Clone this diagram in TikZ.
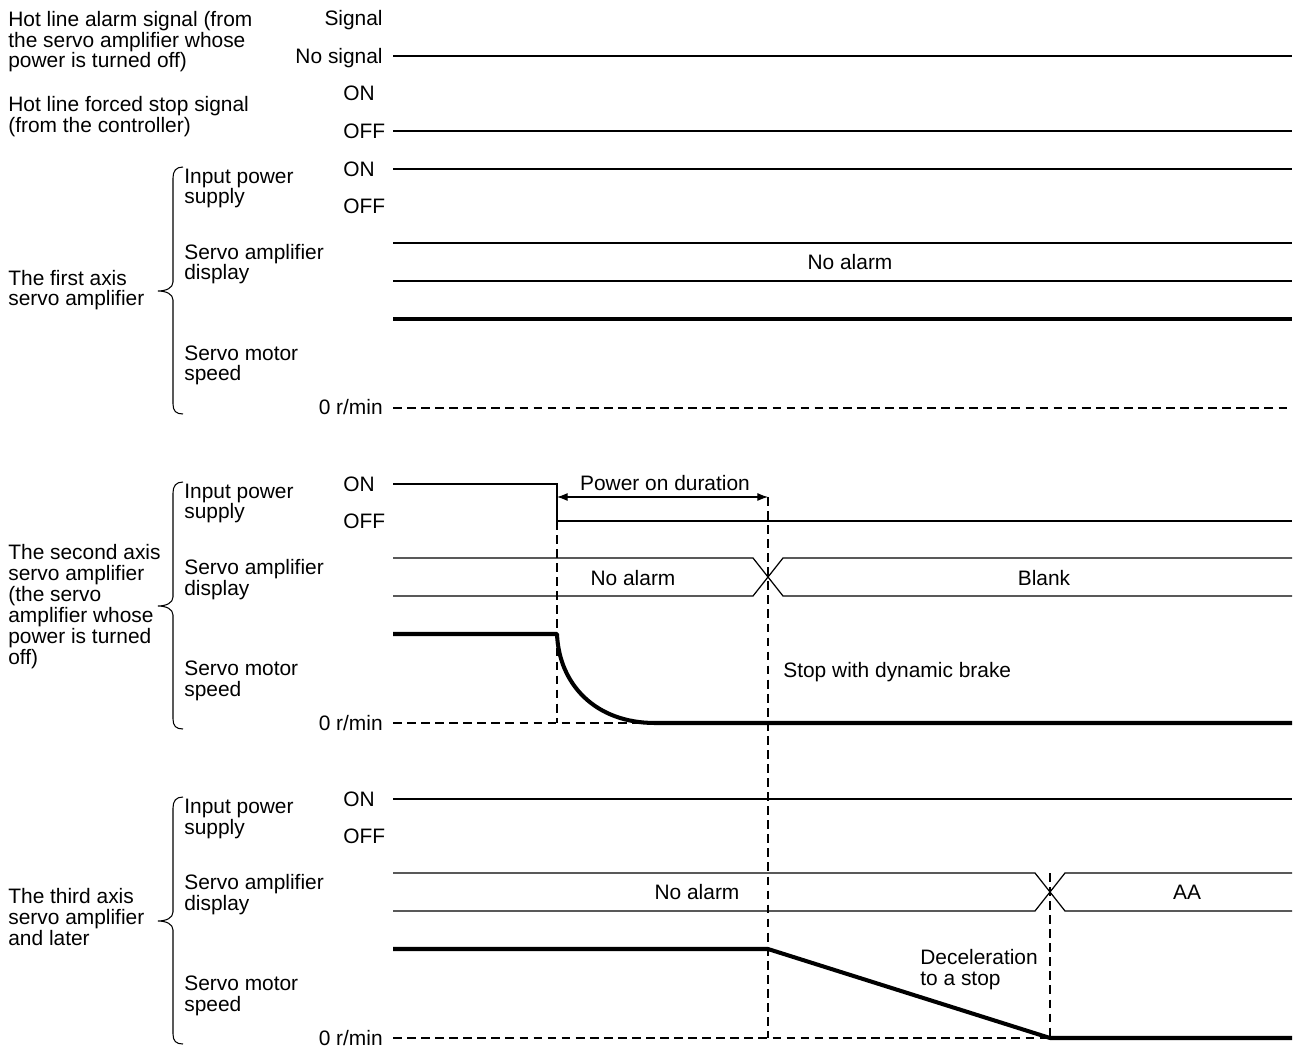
\documentclass[tikz,border=0pt]{standalone}
\usepackage{fontspec}
\setmainfont{Liberation Sans}
\usetikzlibrary{arrows.meta}
\begin{document}
\begin{tikzpicture}[x=0.02cm,y=-0.02cm,
  font=\fontsize{11.9}{11.9}\selectfont,
  lbl/.style={inner sep=0pt, anchor=base west, align=left},
  rlbl/.style={inner sep=0pt, anchor=base east},
  clbl/.style={inner sep=0pt, anchor=base},
  sig/.style={line width=0.7pt},
  spd/.style={line width=2.3pt, line join=round},
  guide/.style={dash pattern=on 5pt off 3pt, line width=0.6pt},
  brc/.style={line width=0.6pt},
  dim/.style={line width=0.6pt, {Latex[length=6pt,width=4.5pt]}-{Latex[length=6pt,width=4.5pt]}}]
\useasboundingbox (0,0) rectangle (1298,1050);
% note: multi-line labels are placed at the baseline of their LAST line

% ---------- hot line signals ----------
\node[lbl] (halarm) at (8,68) {Hot line alarm signal (from\\the servo amplifier whose\\power is turned off)};
\node[rlbl] (hsig) at (383,26) {Signal};
\node[rlbl] (hnosig) at (383,63.5) {No signal};
\draw[sig] (393,56) -- (1292,56);
\node[lbl] (hforce) at (8,132.5) {Hot line forced stop signal\\(from the controller)};
\node[lbl] (hon) at (343,101) {ON};
\node[lbl] (hoff) at (343,138.5) {OFF};
\draw[sig] (393,131) -- (1292,131);

% ---------- common block labels ----------
\newcommand{\blocklabels}[1]{%
  \node[lbl] (#1on) at (343,7.5) {ON};
  \node[lbl] (#1off) at (343,44.5) {OFF};
  \node[lbl] (#1inp) at (184,35) {Input power\\supply};
  \node[lbl] (#1disp) at (184,111) {Servo amplifier\\display};
  \node[lbl] (#1spd) at (184,212) {Servo motor\\speed};
  \node[rlbl] (#1zero) at (383,246) {0 r/min};
  \draw[brc] (183,-2) .. controls (176,-2) and (173,2) .. (173,9) -- (173,113)
    .. controls (173,119) and (166,122) .. (158,122)
    .. controls (166,122) and (173,125) .. (173,131) -- (173,235)
    .. controls (173,242) and (176,245) .. (183,245);
  \draw[guide] (393,239) -- (1292,239);
}

% ---------- first axis ----------
\begin{scope}[shift={(0,169)}]
\blocklabels{a}
\node[lbl] (aname) at (8,137) {The first axis\\servo amplifier};
\draw[sig] (393,0) -- (1292,0);
\draw[sig] (393,74) -- (1292,74);
\draw[sig] (393,112) -- (1292,112);
\node[clbl] (adisp1) at (850,101) {No alarm};
\draw[spd] (393,150) -- (1292,150);
\end{scope}

% ---------- second axis ----------
\begin{scope}[shift={(0,484)}]
\blocklabels{b}
\node[lbl] (bname) at (8,180) {The second axis\\servo amplifier\\(the servo\\amplifier whose\\power is turned\\off)};
\draw[sig] (393,0) -- (557,0) -- (557,37) -- (1292,37);
\coordinate (poff) at (557,13);
\coordinate (pend) at (768,13);
\draw[dim] (poff) -- (pend);
\node[clbl] (pdur) at (665,7) {Power on duration};
\draw[sig] (393,74) -- (753,74) -- (783,112) -- (1292,112);
\draw[sig] (393,112) -- (753,112) -- (783,74) -- (1292,74);
\node[clbl] (bdisp1) at (633,101) {No alarm};
\node[clbl] (bdisp2) at (1044,101) {Blank};
\draw[guide] (557,37) -- (557,239);
\draw[spd] (393,150) -- (557,150) .. controls (559,200) and (595,239) .. (655,239) -- (1292,239);
\node[lbl] (bdyn) at (783,193) {Stop with dynamic brake};
\end{scope}

% ---------- third axis ----------
\begin{scope}[shift={(0,799)}]
\blocklabels{c}
\node[lbl] (cname) at (8,146) {The third axis\\servo amplifier\\and later};
\draw[sig] (393,0) -- (1292,0);
\draw[sig] (393,74) -- (1035,74) -- (1065,112) -- (1292,112);
\draw[sig] (393,112) -- (1035,112) -- (1065,74) -- (1292,74);
\node[clbl] (cdisp1) at (697,100) {No alarm};
\node[clbl] (cdisp2) at (1187,100) {AA};
\draw[guide] (1050,74) -- (1050,239);
\draw[spd] (393,150) -- (768,150) -- (1050,239) -- (1292,239);
\node[lbl] (cdec) at (920,186) {Deceleration\\to a stop};
\end{scope}

% long guide through the second and third axes
\draw[guide] (pend) -- (768,1038);
\end{tikzpicture}
\end{document}
